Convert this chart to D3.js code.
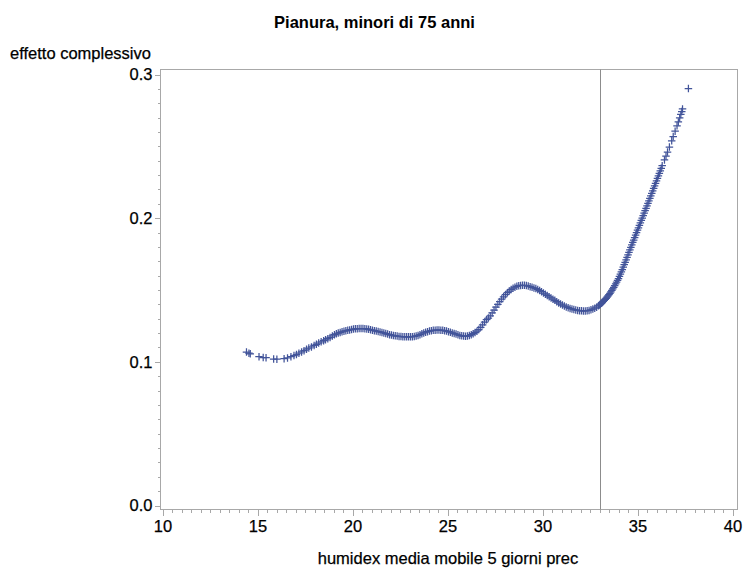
<!DOCTYPE html>
<html><head><meta charset="utf-8">
<script src="https://cdn.jsdelivr.net/npm/d3@7"></script>
<style>
body{margin:0;background:#fff}
svg{display:block}
text{font-family:"Liberation Sans",Arial,sans-serif;fill:#000}
</style>
</head><body>
<svg id="c" width="745" height="568"></svg>
<script>
const title = "Pianura, minori di 75 anni";
const xLabel = "humidex media mobile 5 giorni prec";
const yLabel = "effetto complessivo";
const xTicks = [10, 15, 20, 25, 30, 35, 40];
const yTicks = [0.0, 0.1, 0.2, 0.3];
const refLineX = 33;

const humidex = [
  14.42, 14.55, 14.62, 15.08, 15.30, 15.45, 15.85, 16.02, 16.40, 16.58,
  16.76, 16.92, 17.05, 17.18, 17.32, 17.45, 17.58, 17.70, 17.84, 17.98,
  18.10, 18.22, 18.35, 18.48, 18.58, 18.70, 18.82, 18.94, 19.05, 19.15,
  19.25, 19.35, 19.45, 19.55, 19.65, 19.75, 19.85, 19.95, 20.05, 20.15,
  20.25, 20.35, 20.45, 20.55, 20.65, 20.75, 20.85, 20.95, 21.05, 21.15,
  21.25, 21.35, 21.45, 21.55, 21.65, 21.75, 21.85, 21.95, 22.05, 22.15,
  22.25, 22.35, 22.45, 22.55, 22.65, 22.75, 22.85, 22.95, 23.05, 23.15,
  23.25, 23.35, 23.45, 23.55, 23.65, 23.75, 23.85, 23.95, 24.05, 24.15,
  24.25, 24.35, 24.45, 24.55, 24.65, 24.75, 24.85, 24.95, 25.05, 25.15,
  25.25, 25.35, 25.45, 25.55, 25.65, 25.75, 25.85, 25.95, 26.05, 26.15,
  26.25, 26.35, 26.45, 26.55, 26.65, 26.75, 26.85, 26.95, 27.05, 27.15,
  27.25, 27.35, 27.45, 27.55, 27.65, 27.75, 27.85, 27.95, 28.05, 28.15,
  28.25, 28.35, 28.45, 28.55, 28.65, 28.75, 28.85, 28.95, 29.05, 29.15,
  29.25, 29.35, 29.45, 29.55, 29.65, 29.75, 29.85, 29.95, 30.05, 30.15,
  30.25, 30.35, 30.45, 30.55, 30.65, 30.75, 30.85, 30.95, 31.05, 31.15,
  31.25, 31.35, 31.45, 31.55, 31.65, 31.75, 31.85, 31.95, 32.05, 32.15,
  32.25, 32.35, 32.45, 32.55, 32.65, 32.75, 32.85, 32.95, 33.0, 33.1,
  33.2, 33.3, 33.4, 33.5, 33.6, 33.7, 33.8, 33.9, 34.0, 34.1,
  34.2, 34.3, 34.4, 34.5, 34.6, 34.7, 34.8, 34.9, 35.0, 35.1,
  35.2, 35.3, 35.4, 35.5, 35.6, 35.7, 35.8, 35.9, 36.0, 36.1,
  36.2, 36.3, 36.42, 36.5, 36.58, 36.68, 36.80, 36.88, 36.98, 37.08,
  37.15, 37.22, 37.28, 37.33, 37.37, 37.68,
  33.05, 33.15, 33.25, 33.35, 33.45, 33.55, 33.65, 33.75, 33.85, 33.95,
  34.05, 34.15, 34.25, 34.35, 34.45, 34.55, 34.65, 34.75, 34.85, 34.95,
  35.05, 35.15, 35.25, 35.35, 35.45, 35.55, 35.65, 35.75, 35.85, 35.95,
  36.05, 36.15, 36.25
];
const effetto = [
  0.1068, 0.1060, 0.1056, 0.1036, 0.1030, 0.1029, 0.1019, 0.1018, 0.1022, 0.1027,
  0.1036, 0.1044, 0.1051, 0.1060, 0.1069, 0.1078, 0.1088, 0.1096, 0.1104, 0.1114,
  0.1122, 0.1131, 0.1139, 0.1147, 0.1153, 0.1161, 0.1170, 0.1180, 0.1189, 0.1195,
  0.1200, 0.1205, 0.1209, 0.1213, 0.1216, 0.1219, 0.1222, 0.1225, 0.1228, 0.1230,
  0.1231, 0.1232, 0.1232, 0.1232, 0.1231, 0.1229, 0.1226, 0.1223, 0.1220, 0.1217,
  0.1214, 0.1211, 0.1208, 0.1205, 0.1201, 0.1197, 0.1193, 0.1189, 0.1186, 0.1183,
  0.1181, 0.1179, 0.1177, 0.1176, 0.1175, 0.1174, 0.1174, 0.1174, 0.1174, 0.1175,
  0.1177, 0.1180, 0.1184, 0.1189, 0.1195, 0.1201, 0.1206, 0.1210, 0.1214, 0.1217,
  0.1219, 0.1220, 0.1221, 0.1221, 0.1220, 0.1219, 0.1217, 0.1214, 0.1210, 0.1206,
  0.1201, 0.1197, 0.1193, 0.1188, 0.1184, 0.1181, 0.1179, 0.1178, 0.1179, 0.1183,
  0.1189, 0.1196, 0.1204, 0.1213, 0.1225, 0.1240, 0.1258, 0.1277, 0.1293, 0.1305,
  0.1320, 0.1340, 0.1360, 0.1380, 0.1400, 0.1419, 0.1437, 0.1453, 0.1467, 0.1481,
  0.1493, 0.1504, 0.1513, 0.1520, 0.1526, 0.1530, 0.1532, 0.1533, 0.1533, 0.1531,
  0.1527, 0.1523, 0.1519, 0.1514, 0.1510, 0.1504, 0.1496, 0.1488, 0.1479, 0.1471,
  0.1462, 0.1453, 0.1445, 0.1436, 0.1428, 0.1419, 0.1410, 0.1402, 0.1395, 0.1388,
  0.1382, 0.1377, 0.1372, 0.1368, 0.1364, 0.1361, 0.1358, 0.1356, 0.1355, 0.1354,
  0.1354, 0.1356, 0.1358, 0.1362, 0.1367, 0.1373, 0.1380, 0.1390, 0.1395, 0.1407,
  0.1420, 0.1434, 0.1450, 0.1468, 0.1487, 0.1508, 0.1530, 0.1555, 0.1580, 0.1610,
  0.1642, 0.1676, 0.1710, 0.1745, 0.1780, 0.1814, 0.1848, 0.1882, 0.1916, 0.1950,
  0.1984, 0.2018, 0.2052, 0.2086, 0.2120, 0.2155, 0.2190, 0.2225, 0.2260, 0.2295,
  0.2330, 0.2365, 0.2405, 0.2432, 0.2460, 0.2495, 0.2538, 0.2568, 0.2605, 0.2643,
  0.2670, 0.2698, 0.2722, 0.2742, 0.2760, 0.2902,
  0.1401, 0.1413, 0.1427, 0.1442, 0.1459, 0.1477, 0.1497, 0.1519, 0.1542, 0.1567,
  0.1595, 0.1626, 0.1659, 0.1693, 0.1727, 0.1762, 0.1797, 0.1831, 0.1865, 0.1899,
  0.1933, 0.1967, 0.2001, 0.2035, 0.2069, 0.2103, 0.2137, 0.2172, 0.2207, 0.2242,
  0.2277, 0.2312, 0.2347
];

const svg = d3.select("#c");
const frame = {left: 160.5, right: 737.5, top: 69.5, bottom: 509.5};

const x = d3.scaleLinear().domain([10, 40]).range([162.5, 732.5]);
const y = d3.scaleLinear().domain([0, 0.3]).range([505.5, 74.5]);

const gridColor = "#a8a8a8";
const fontSize = 16.5;

// title
svg.append("text").attr("x", 374.5).attr("y", 28).attr("text-anchor", "middle")
  .attr("font-weight", "bold").attr("font-size", fontSize).text(title);

// y label
svg.append("text").attr("x", 10).attr("y", 59).attr("font-size", fontSize)
  .attr("stroke", "#000").attr("stroke-width", 0.25).text(yLabel);

// x label
svg.append("text").attr("x", 448).attr("y", 564).attr("text-anchor", "middle")
  .attr("font-size", fontSize).attr("stroke", "#000").attr("stroke-width", 0.25).text(xLabel);

// axes: minor ticks
const xMinor = d3.range(10, 40.001, 0.5).map(d => +d.toFixed(2)).filter(d => d % 5 !== 0);
const yMinor = d3.range(0, 0.3001, 0.01).map(d => +d.toFixed(3)).filter(d => Math.round(d * 100) % 10 !== 0);

const gx = svg.append("g").attr("transform", `translate(0,${frame.bottom})`);
gx.call(d3.axisBottom(x).tickValues(xMinor).tickSize(3).tickFormat(""));
const gx2 = svg.append("g").attr("transform", `translate(0,${frame.bottom})`);
gx2.call(d3.axisBottom(x).tickValues(xTicks).tickSize(6).tickPadding(4).tickFormat(d3.format("d")));

const gy = svg.append("g").attr("transform", `translate(${frame.left},0)`);
gy.call(d3.axisLeft(y).tickValues(yMinor).tickSize(3).tickFormat(""));
const gy2 = svg.append("g").attr("transform", `translate(${frame.left},0)`);
gy2.call(d3.axisLeft(y).tickValues(yTicks).tickSize(6).tickPadding(2).tickFormat(d3.format(".1f")));

svg.selectAll(".domain").remove();
svg.selectAll(".tick line").attr("stroke", gridColor).attr("shape-rendering", "crispEdges");
svg.selectAll(".tick text").attr("font-size", fontSize).attr("font-family", "Liberation Sans, Arial, sans-serif")
  .attr("fill", "#000").attr("stroke", "#000").attr("stroke-width", 0.25);
gx2.selectAll(".tick text").attr("dy", "0.71em").attr("y", 11);

// frame
svg.append("rect").attr("x", frame.left).attr("y", frame.top)
  .attr("width", frame.right - frame.left).attr("height", frame.bottom - frame.top)
  .attr("fill", "none").attr("stroke", gridColor).attr("shape-rendering", "crispEdges");

// reference line
svg.append("line").attr("x1", Math.round(x(refLineX)) + 0.5).attr("x2", Math.round(x(refLineX)) + 0.5)
  .attr("y1", frame.top).attr("y2", frame.bottom)
  .attr("stroke", "#8c8c8c").attr("stroke-width", 1);

// points
const pts = humidex.map((h, i) => ({h, e: effetto[i]}));
const s = 3.75;
svg.append("g").selectAll("path").data(pts).join("path")
  .attr("d", d => {
    const cx = x(d.h), cy = y(d.e);
    return `M${cx - s},${cy}H${cx + s}M${cx},${cy - s}V${cy + s}`;
  })
  .attr("stroke", "#42549a").attr("stroke-width", 1.25).attr("fill", "none");
</script>
</body></html>
